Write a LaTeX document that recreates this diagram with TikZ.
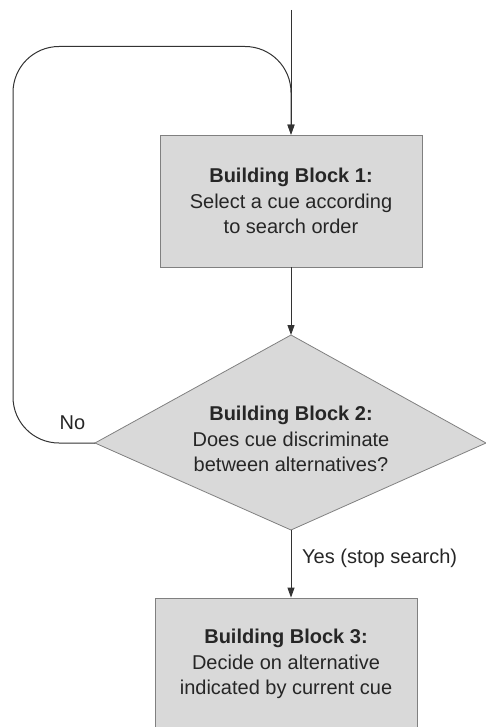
\documentclass[tikz,border=0pt]{standalone}
\usepackage{fontspec}
\setmainfont{Liberation Sans}
\usetikzlibrary{arrows.meta}
\begin{document}
\begin{tikzpicture}[x=1pt,y=-1pt,
    every node/.style={font=\fontsize{20}{25.5}\selectfont,text=black!85},
    blockbox/.style={draw=black!50,fill=black!15,line width=0.8pt,minimum width=262pt,minimum height=132pt,align=center,inner sep=0pt},
    arrow/.style={draw=black!80,line width=1pt,-{Triangle[length=10pt,width=7pt]}}]
          \clip (0,0) rectangle (486,727);
          \coordinate (start) at (291,10);
          \node[blockbox] (b1) at (291,201) {\textbf{Building Block 1:}\\Select a cue according\\to search order};
          % decision diamond
          \coordinate (dtop) at (291,335);
          \coordinate (dright) at (486,443);
          \coordinate (dbot) at (291,530);
          \coordinate (dleft) at (95,443);
          \filldraw[draw=black!50,fill=black!15,line width=0.8pt] (dtop) -- (dright) -- (dbot) -- (dleft) -- cycle;
          \node[align=center,inner sep=0pt] (d) at (291,439) {\textbf{Building Block 2:}\\Does cue discriminate\\between alternatives?};
          \node[blockbox] (b3) at (286,664) {\textbf{Building Block 3:}\\Decide on alternative\\indicated by current cue};
          \draw[arrow] (start) -- (b1.north);
          \draw[arrow] (b1.south) -- (dtop);
          \draw[arrow,rounded corners=46pt] (dleft) -| (13,46.5) -| (b1.north);
          \draw[arrow] (dbot) -- (dbot |- b3.north);
          \node[inner sep=0pt] (no) at (72.5,423) {No};
          \node[inner sep=0pt,anchor=west] (yes) at (302,558) {Yes (stop search)};
        \end{tikzpicture}
\end{document}
